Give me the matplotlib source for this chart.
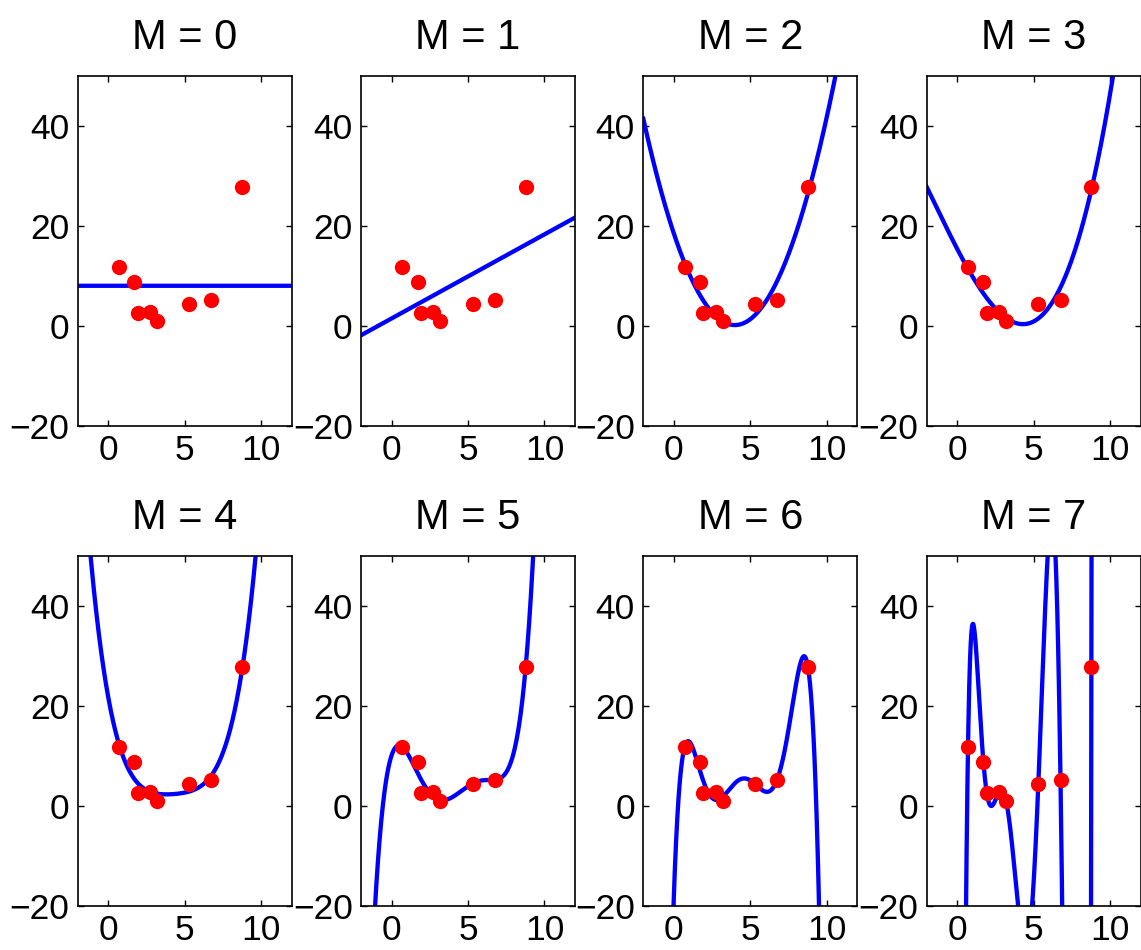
import matplotlib
matplotlib.use("Agg")
import matplotlib.pyplot as plt
import numpy as np

plt.rcParams['font.family'] = ['Liberation Sans', 'DejaVu Sans']

# data points
x_pts = [0.70, 1.71, 1.93, 2.74, 3.19, 5.30, 6.75, 8.77]
y_pts = [11.68, 8.68, 2.52, 2.72, 0.94, 4.40, 5.20, 27.74]
degrees = [0, 1, 2, 3, 4, 5, 6, 7]
x_ticks = [0, 5, 10]
y_ticks = [-20, 0, 20, 40]

fig = plt.figure(figsize=(11.41, 9.5), dpi=100)

lefts = [0.0681, 0.3164, 0.5638, 0.8122]
bottoms = [0.5519, 0.0466]
w, h = 0.1876, 0.3684

xs = np.array(x_pts)
ys = np.array(y_pts)
xx = np.linspace(-2, 12, 2000)

for i, M in enumerate(degrees):
    ax = fig.add_axes([lefts[i % 4], bottoms[i // 4], w, h])
    p = np.polynomial.Polynomial.fit(xs, ys, M)
    ax.plot(xx, p(xx), color=(0, 0, 1), lw=3.1)
    ax.plot(xs, ys, 'o', color=(1, 0, 0), ms=11, mec='none')
    ax.set_xlim(-2, 12)
    ax.set_ylim(-20, 50)
    ax.set_xticks(x_ticks)
    ax.set_yticks(y_ticks)
    ax.tick_params(direction='in', length=4, width=1, top=True, right=True,
                   labelsize=25.5)
    ax.tick_params(axis='x', pad=6)
    ax.tick_params(axis='y', pad=6)
    for s in ax.spines.values():
        s.set_linewidth(1.2)
    ax.set_title("M = %d" % M, fontsize=30, pad=19)

fig.savefig("out.png", dpi=100)
